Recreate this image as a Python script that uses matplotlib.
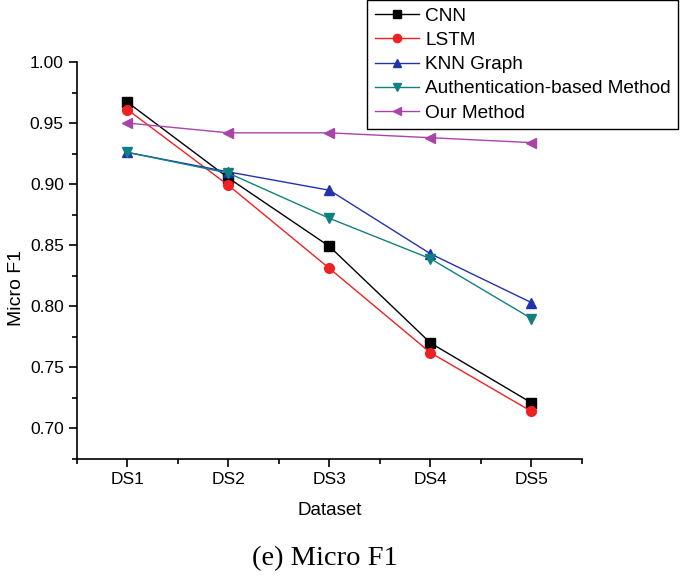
import numpy as np
import matplotlib.pyplot as plt

datasets = ["DS1", "DS2", "DS3", "DS4", "DS5"]
cnn = [0.967, 0.905, 0.849, 0.770, 0.721]
lstm = [0.961, 0.899, 0.831, 0.762, 0.714]
knn_graph = [0.926, 0.910, 0.895, 0.843, 0.803]
auth_based = [0.926, 0.909, 0.872, 0.839, 0.790]
our_method = [0.950, 0.942, 0.942, 0.938, 0.934]

plt.rcParams['font.family'] = ['Liberation Sans', 'DejaVu Sans']

fig = plt.figure(figsize=(6.85, 5.76), dpi=100)
ax = fig.add_axes([0.1124, 0.2031, 0.7372, 0.6893])

x = np.arange(1, len(datasets) + 1)
series = [
    (cnn, "CNN", "#000000", "s"),
    (lstm, "LSTM", "#EE2222", "o"),
    (knn_graph, "KNN Graph", "#2233AA", "^"),
    (auth_based, "Authentication-based Method", "#118080", "v"),
    (our_method, "Our Method", "#AA44AA", "<"),
]
for vals, name, col, mk in series:
    ax.plot(x, vals, color=col, marker=mk, markersize=7, linewidth=1, label=name)

ax.set_xlim(0.5, 5.5)
ax.set_ylim(0.675, 1.0)
ax.set_xticks(x)
ax.set_xticklabels(datasets)
ax.xaxis.set_minor_locator(plt.FixedLocator(np.arange(0.5, 5.6, 1.0)))
ax.yaxis.set_major_locator(plt.FixedLocator([0.70, 0.75, 0.80, 0.85, 0.90, 0.95, 1.00]))
ax.yaxis.set_minor_locator(plt.FixedLocator([0.675, 0.725, 0.775, 0.825, 0.875, 0.925, 0.975]))
ax.yaxis.set_major_formatter(plt.FormatStrFormatter("%.2f"))
ax.tick_params(which='major', direction='out', length=6, width=1.2, labelsize=12.5)
ax.tick_params(which='minor', direction='out', length=3.5, width=1.2)

for s in ["top", "right"]:
    ax.spines[s].set_visible(False)
for s in ["left", "bottom"]:
    ax.spines[s].set_linewidth(1.2)

ax.set_xlabel("Dataset", fontsize=13.5)
ax.set_ylabel("Micro F1", fontsize=14)
ax.xaxis.set_label_coords(0.5, -0.108)
ax.yaxis.set_label_coords(-0.103, 0.43)

fig.legend(loc="upper left", bbox_to_anchor=(0.536, 1.0), fontsize=13.7,
           frameon=True, fancybox=False, edgecolor="#000000", framealpha=1,
           handlelength=2.3, borderaxespad=0, labelspacing=0.36, borderpad=0.4,
           handletextpad=0.35, markerscale=0.85)

fig.text(0.474, 0.031, "(e) Micro F1", fontsize=20.5, family=["Liberation Serif", "DejaVu Serif"],
         ha="center", va="center")

fig.savefig("out.png", dpi=100)
